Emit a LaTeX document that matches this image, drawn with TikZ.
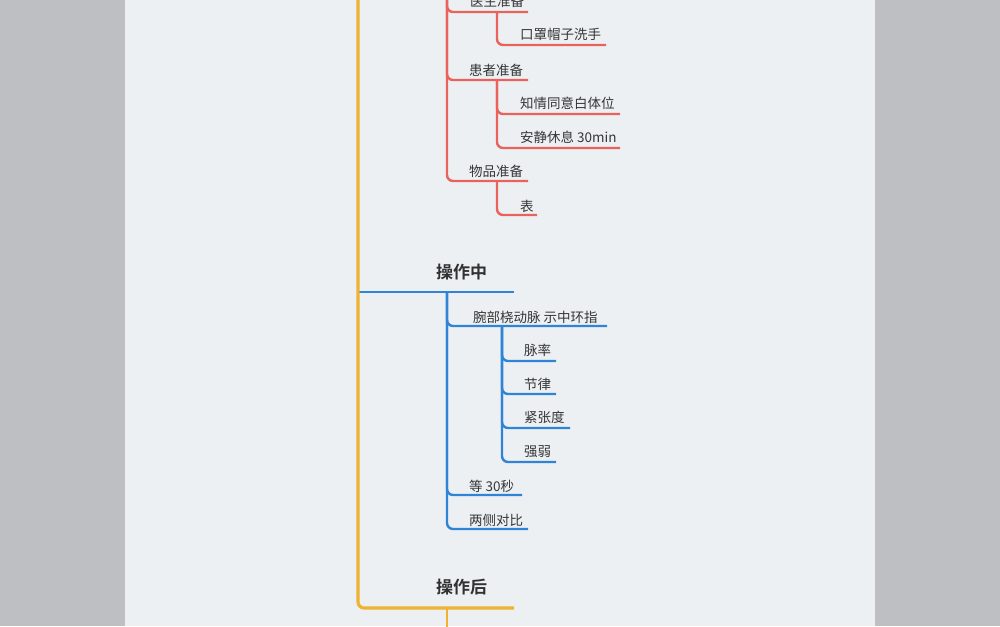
\documentclass[tikz,border=0pt]{standalone}
\usepackage{fontspec}
\newfontfamily\cjk{Noto Sans CJK SC}
\newfontfamily\cjkb{Noto Sans CJK SC Bold}
\definecolor{sidegrey}{HTML}{BEBFC3}
\definecolor{panel}{HTML}{ECF0F3}
\definecolor{ylw}{HTML}{F0B232}
\definecolor{rd}{HTML}{E9625B}
\definecolor{bl}{HTML}{2F84D6}
\definecolor{txtc}{HTML}{363636}
\tikzset{
  lbl/.style={anchor=base west, inner sep=0pt, text=txtc, font=\cjk\fontsize{13.5}{14}\selectfont},
  hdr/.style={anchor=base west, inner sep=0pt, text=txtc!90!black, font=\cjkb\fontsize{17}{18}\selectfont},
  mainln/.style={draw=ylw, line width=3.2pt, rounded corners=6pt},
  redln/.style={draw=rd, line width=2.4pt, rounded corners=6pt},
  blueln/.style={draw=bl, line width=2.4pt, rounded corners=6pt},
}
\begin{document}
\begin{tikzpicture}[x=1pt,y=-1pt]
\useasboundingbox (0,0) rectangle (1000,626);
\fill[sidegrey] (0,0) rectangle (1000,626);
\fill[panel] (125,0) rectangle (875,626);
\clip (125,0) rectangle (875,626);

% coordinates
\coordinate (root) at (358,-30);
\coordinate (zhS) at (358,292);
\coordinate (zhE) at (514,292);
\coordinate (hoE) at (514,608);
\coordinate (hoB) at (447,608);
\coordinate (hoD) at (447,640);

\coordinate (prepV) at (447,-30);
\coordinate (ysB) at (497,12);   \coordinate (ysE) at (528,12);
\coordinate (kzE) at (606,45);
\coordinate (hzB) at (497,80);   \coordinate (hzE) at (528,80);
\coordinate (zqE) at (620,114);
\coordinate (ajE) at (620,148);
\coordinate (wpB) at (497,181);  \coordinate (wpE) at (528,181);
\coordinate (bE) at (537,215);

\coordinate (zhB) at (447,292);
\coordinate (wbB) at (502,326);  \coordinate (wbE) at (607,326);
\coordinate (mlE) at (556,361);
\coordinate (jlE) at (556,394);
\coordinate (jzE) at (570,428);
\coordinate (qrE) at (556,462);
\coordinate (d30E) at (522,495);
\coordinate (lcE) at (528,529);

% red branch
\draw[redln] (prepV) |- (ysE);
\draw[redln] (prepV) |- (hzE);
\draw[redln] (prepV) |- (wpE);
\draw[redln] (ysB) |- (kzE);
\draw[redln] (hzB) |- (zqE);
\draw[redln] (hzB) |- (ajE);
\draw[redln] (wpB) |- (bE);

% blue branch
\draw[blueln] (zhB) |- (wbE);
\draw[blueln] (zhB) |- (d30E);
\draw[blueln] (zhB) |- (lcE);
\draw[blueln] (wbB) |- (mlE);
\draw[blueln] (wbB) |- (jlE);
\draw[blueln] (wbB) |- (jzE);
\draw[blueln] (wbB) |- (qrE);
\draw[blueln] (zhS) -- (zhE);

% yellow main
\draw[mainln, line width=2.6pt] (hoB) -- (hoD);
\draw[mainln] (root) |- (hoE);

% labels
\node[lbl] (ys) at (470,7) {医生准备};
\node[lbl] (kz) at (520,40) {口罩帽子洗手};
\node[lbl] (hz) at (469,75) {患者准备};
\node[lbl] (zq) at (520,108.5) {知情同意白体位};
\node[lbl] (aj) at (520,142) {安静休息 30min};
\node[lbl] (wp) at (469,176) {物品准备};
\node[lbl] (b) at (520,211) {表};

\node[hdr] (zh) at (436,278.5) {操作中};
\node[lbl] (wb) at (473,322) {腕部桡动脉 示中环指};
\node[lbl] (ml) at (524,355.5) {脉率};
\node[lbl] (jl) at (524,389) {节律};
\node[lbl] (jz) at (524,422.5) {紧张度};
\node[lbl] (qr) at (524,456.5) {强弱};
\node[lbl] (d30) at (469,491) {等 30秒};
\node[lbl] (lc) at (469,525) {两侧对比};
\node[hdr] (ho) at (436,593.5) {操作后};
\end{tikzpicture}
\end{document}
